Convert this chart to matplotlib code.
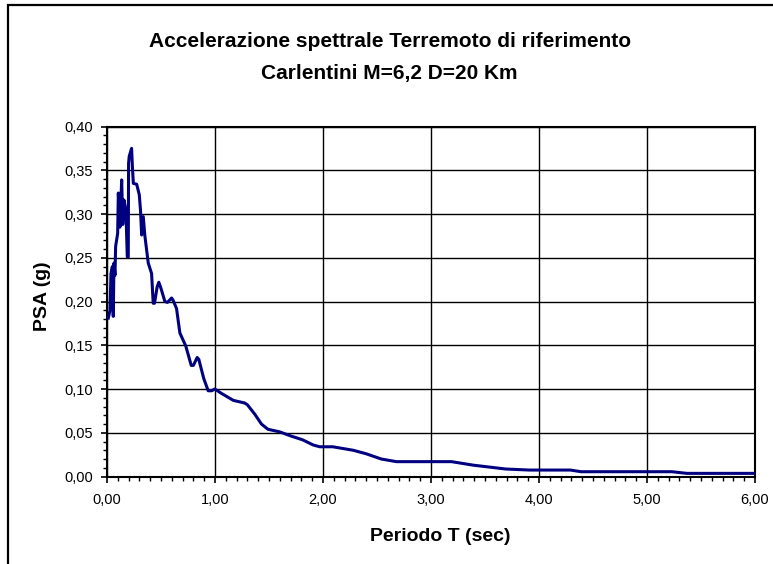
import matplotlib
matplotlib.use("Agg")
import matplotlib.pyplot as plt
from matplotlib.ticker import MultipleLocator, FuncFormatter
from matplotlib.patches import Rectangle

plt.rcParams['font.family'] = ['Liberation Sans', 'DejaVu Sans']

# spectral acceleration vs period
period = [0.012, 0.028, 0.037, 0.05, 0.058, 0.065, 0.074, 0.08, 0.099, 0.105,
          0.12, 0.136, 0.146, 0.157, 0.175, 0.188, 0.197, 0.2, 0.206, 0.228,
          0.235, 0.244, 0.275, 0.299, 0.31, 0.321, 0.336, 0.35, 0.382, 0.413,
          0.428, 0.44, 0.465, 0.48, 0.50, 0.536, 0.56, 0.598, 0.61, 0.644,
          0.675, 0.73, 0.78, 0.80, 0.835, 0.85, 0.896, 0.937, 0.97, 0.998,
          1.06, 1.17, 1.275, 1.30, 1.37, 1.43, 1.49, 1.60, 1.71, 1.81,
          1.91, 1.97, 2.09, 2.28, 2.40, 2.54, 2.68, 3.19, 3.39, 3.69,
          3.91, 4.29, 4.39, 5.23, 5.37, 6.00]
psa = [0.181, 0.19, 0.232, 0.24, 0.183, 0.244, 0.23, 0.263, 0.278, 0.324,
       0.285, 0.339, 0.288, 0.316, 0.305, 0.251, 0.251, 0.358, 0.366, 0.375,
       0.355, 0.335, 0.334, 0.322, 0.305, 0.276, 0.297, 0.276, 0.244, 0.232,
       0.198, 0.198, 0.217, 0.222, 0.215, 0.200, 0.199, 0.204, 0.202, 0.192,
       0.164, 0.149, 0.127, 0.127, 0.136, 0.134, 0.112, 0.098, 0.098, 0.100,
       0.095, 0.087, 0.084, 0.082, 0.071, 0.060, 0.054, 0.051, 0.046, 0.042,
       0.036, 0.034, 0.034, 0.030, 0.026, 0.020, 0.017, 0.017, 0.013, 0.0086,
       0.0074, 0.0074, 0.0055, 0.0055, 0.0036, 0.0036]

fig = plt.figure(figsize=(7.73, 5.64), dpi=100)
ax = fig.add_axes([0.1384, 0.1551, 0.8383, 0.6206])

ax.plot(period, psa, color='#000080', linewidth=2.2, zorder=3)

ax.set_xlim(0, 6)
ax.set_ylim(0, 0.40)
ax.xaxis.set_major_locator(MultipleLocator(1))
ax.xaxis.set_minor_locator(MultipleLocator(0.1))
ax.yaxis.set_major_locator(MultipleLocator(0.05))
ax.yaxis.set_minor_locator(MultipleLocator(0.01))
comma = FuncFormatter(lambda v, pos: "{:.2f}".format(v).replace('.', ','))
ax.xaxis.set_major_formatter(comma)
ax.yaxis.set_major_formatter(comma)

ax.grid(True, which='major', color='black', linewidth=1.0)
ax.tick_params(which='major', direction='out', length=4, width=1.2,
               labelsize=10.5, pad=6)
ax.tick_params(which='minor', direction='out', length=3, width=1.0)
ax.tick_params(axis='x', which='major', pad=8)
for s in ax.spines.values():
    s.set_linewidth(1.5)

ax.set_xlabel("Periodo T (sec)", fontsize=14, fontweight='bold')
ax.set_ylabel("PSA (g)", fontsize=14, fontweight='bold')
ax.xaxis.set_label_coords(0.514, -0.148)
ax.yaxis.set_label_coords(-0.087, 0.515)

fig.text(0.504, 0.927, "Accelerazione spettrale Terremoto di riferimento",
         ha='center', va='center', fontsize=15, fontweight='bold')
fig.text(0.504, 0.870, "Carlentini M=6,2 D=20 Km",
         ha='center', va='center', fontsize=15, fontweight='bold')

# chart area frame
fig.patches.append(Rectangle((8 / 773, -0.05), 1.0, 1 - 5 / 564 + 0.05,
                             transform=fig.transFigure, fill=False,
                             edgecolor='black', linewidth=1.6))

fig.savefig("out.png", dpi=100)
